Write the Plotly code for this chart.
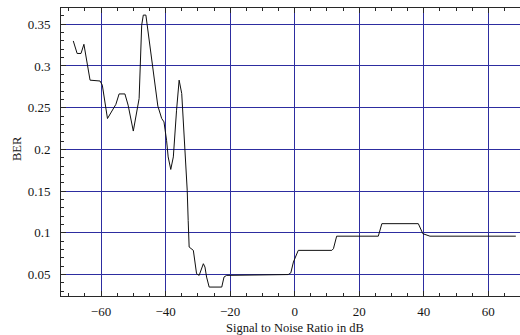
import plotly.graph_objects as go

# Bit error rate versus signal-to-noise ratio
snr_db = [-68.6, -67.4, -66.2, -65.3, -63.4, -60.3, -59.6, -58.0, -55.4, -54.4,
          -52.6, -51.6, -50.0, -48.2, -47.4, -46.9, -46.1, -44.3, -43.3, -42.4,
          -41.2, -40.5, -39.7, -39.2, -38.4, -37.6, -36.6, -35.8, -35.0, -34.0,
          -33.6, -33.3, -33.0, -32.7, -31.4, -30.4, -29.6, -28.3, -27.8, -27.3,
          -26.5, -22.6, -21.9, -21.1, -2.0, -1.2, -0.4, 1.1, 11.5, 12.0,
          13.0, 25.9, 27.0, 38.3, 39.7, 41.9, 68.5]
ber = [0.330, 0.315, 0.315, 0.326, 0.283, 0.282, 0.277, 0.237, 0.254, 0.2665,
       0.2665, 0.253, 0.222, 0.261, 0.349, 0.361, 0.361, 0.307, 0.275, 0.252,
       0.237, 0.233, 0.211, 0.191, 0.176, 0.191, 0.247, 0.283, 0.267, 0.203,
       0.170, 0.151, 0.115, 0.083, 0.079, 0.051, 0.049, 0.063, 0.059, 0.047,
       0.035, 0.035, 0.047, 0.049, 0.050, 0.052, 0.065, 0.079, 0.079, 0.081,
       0.096, 0.096, 0.111, 0.111, 0.099, 0.096, 0.096]

x_ticks = [-60, -40, -20, 0, 20, 40, 60]
y_ticks = [0.05, 0.1, 0.15, 0.2, 0.25, 0.3, 0.35]

x_title = "Signal to Noise Ratio in dB"
y_title = "BER"

grid_color = "rgb(45,45,160)"
axis_color = "rgb(40,40,40)"
family = "Liberation Serif, Times New Roman, serif"
tick_font = dict(family=family, size=13, color="rgb(20,20,20)")
title_font = dict(family=family, size=12.5, color="rgb(20,20,20)")

fig = go.Figure()
fig.add_trace(go.Scatter(x=snr_db, y=ber, mode="lines",
                         line=dict(color="rgb(15,15,15)", width=1), hoverinfo="skip"))

fig.update_layout(
    width=520, height=335,
    margin=dict(l=61, r=0, t=8, b=39),
    paper_bgcolor="white", plot_bgcolor="white",
    showlegend=False, font=tick_font,
)
fig.update_xaxes(
    range=[-72.4, 69.8], tickvals=x_ticks, ticks="inside", ticklen=5,
    tickcolor=axis_color, showline=True, linecolor=axis_color, linewidth=1,
    mirror="ticks", showgrid=True, gridcolor=grid_color, gridwidth=1,
    zeroline=False, tickfont=tick_font, ticklabelstandoff=3,
    minor=dict(dtick=5, tick0=0, ticks="inside", ticklen=3, tickcolor=axis_color, showgrid=False),
)
fig.update_yaxes(
    range=[0.0243, 0.3695], tickvals=y_ticks, ticks="inside", ticklen=5,
    tickcolor=axis_color, showline=True, linecolor=axis_color, linewidth=1,
    mirror=False, showgrid=True, gridcolor=grid_color, gridwidth=1,
    zeroline=False, tickfont=tick_font, ticklabelstandoff=7,
    minor=dict(dtick=0.01, tick0=0, ticks="inside", ticklen=3, tickcolor=axis_color, showgrid=False),
)

fig.add_annotation(text=x_title, xref="x", x=0, yref="paper", y=0, yshift=-32,
                   showarrow=False, font=title_font, xanchor="center", yanchor="middle")
fig.add_annotation(text=y_title, xref="paper", x=0, xshift=-44, yref="paper", y=0.5,
                   yshift=3, textangle=-90, showarrow=False, font=title_font,
                   xanchor="center", yanchor="middle")

fig.write_html("out.html")
